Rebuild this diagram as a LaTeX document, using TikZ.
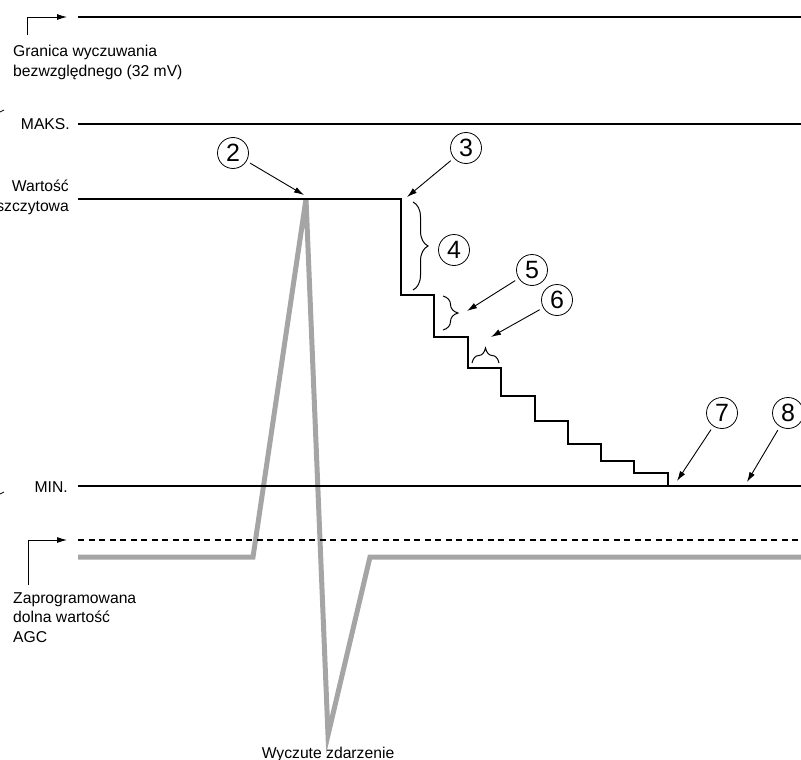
\documentclass[tikz,border=0pt]{standalone}
\usepackage{fontspec}
\setmainfont{Liberation Sans}
\usetikzlibrary{decorations.pathreplacing,arrows.meta}
\definecolor{sgray}{RGB}{165,165,165}
\begin{document}
\begin{tikzpicture}[x=1pt,y=-1pt,
  lvl/.style={line width=2.6pt},
  sig/.style={line width=5pt, draw=sgray},
  lab/.style={font=\fontsize{15.7}{19.5}\selectfont, inner sep=0pt},
  num/.style={circle, draw, line width=0.8pt, minimum size=31pt, inner sep=0pt, font=\fontsize{25}{25}\selectfont},
  ptr/.style={line width=0.9pt, shorten <=4pt, -{Latex[length=10pt,width=6pt]}},
  bent/.style={line width=0.9pt, -{Latex[length=10pt,width=6pt]}},
  brc/.style={decorate, decoration={brace, amplitude=15pt}, line width=1pt}
]
\useasboundingbox (0,0) rectangle (801,760);

% signal
\draw[sig] (78,557) -- (253,557) -- (306,199) -- (328,735) -- (370,557) -- (801,557);

% levels
\draw[lvl] (78,17) -- (801,17);
\draw[lvl] (78,124) -- (801,124);
\draw[lvl] (78,486) -- (801,486);
\draw[lvl, dash pattern=on 6pt off 4.5pt] (78,540) -- (801,540);
\draw[lvl, line join=miter] (78,199) -- (401,199) -- (401,295) -- (434,295) -- (434,337)
  -- (468,337) -- (468,368) -- (501,368) -- (501,396) -- (535,396) -- (535,421)
  -- (568,421) -- (568,444) -- (601,444) -- (601,461) -- (634,461) -- (634,473)
  -- (668,473) -- (668,486);

% edge marks
\draw[line width=0.8pt] (0,112) -- (4,110);
\draw[line width=0.8pt] (0,494) -- (4,492);

% labels
\node[lab, anchor=north west, align=left] (lgran) at (13,45) {Granica wyczuwania\\bezwzględnego (32 mV)};
\node[lab, anchor=base east] (lmaks) at (70,129) {MAKS.};
\node[lab, anchor=north east, align=right] (lpeak) at (69,180) {Wartość\\szczytowa};
\node[lab, anchor=base east] (lmin) at (68,492) {MIN.};
\node[lab, anchor=north west, align=left] (lagc) at (13,592) {Zaprogramowana\\dolna wartość\\AGC};
\node[lab, anchor=base] (lev) at (328,758) {Wyczute zdarzenie};

% bent arrows
\coordinate (b1s) at (27,35);
\coordinate (b1e) at (67,17);
\draw[bent] (b1s) |- (b1e);
\coordinate (b2s) at (28,585);
\coordinate (b2e) at (67,540);
\draw[bent] (b2s) |- (b2e);

% numbered callouts
\node[num] (c2) at (233,153) {2};
\node[num] (c3) at (466,148) {3};
\node[num] (c4) at (454,250) {4};
\node[num] (c5) at (532,270) {5};
\node[num] (c6) at (557,300) {6};
\node[num] (c7) at (722,413) {7};
\node[num] (c8) at (788,413) {8};

\coordinate (t2) at (304,195);
\coordinate (t3) at (407,197);
\coordinate (t5) at (467,311);
\coordinate (t6) at (491,337);
\coordinate (t7) at (677,481);
\coordinate (t8) at (747,482);
\draw[ptr] (c2) -- (t2);
\draw[ptr] (c3) -- (t3);
\draw[ptr] (c5) -- (t5);
\draw[ptr] (c6) -- (t6);
\draw[ptr] (c7) -- (t7);
\draw[ptr] (c8) -- (t8);

% braces
\draw[brc] (413,202) -- (413,290);
\draw[brc] (443,296) -- (443,330);
\draw[brc] (472,363) -- (499,363);
\end{tikzpicture}
\end{document}
